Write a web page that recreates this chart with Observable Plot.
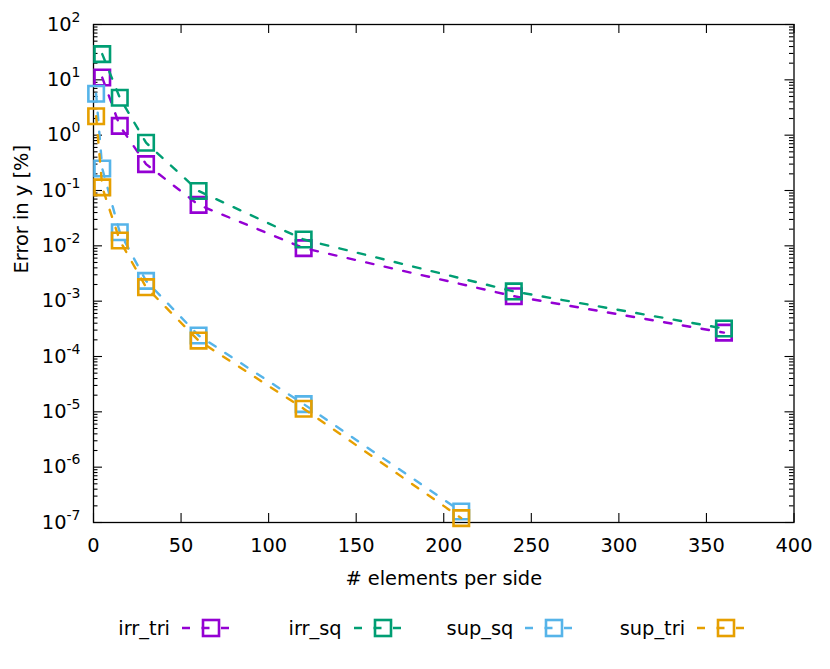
<!DOCTYPE html>
<html>
<head>
<meta charset="utf-8">
<script src="https://cdn.jsdelivr.net/npm/d3@7"></script>
<script src="https://cdn.jsdelivr.net/npm/@observablehq/plot@0.6"></script>
<style>
  html, body { margin: 0; padding: 0; background: #fff; }
  body { width: 830px; height: 669px; overflow: hidden; font-family: "DejaVu Sans", sans-serif; }
  #legend { display: flex; height: 56px; align-items: center; padding-left: 98px; font-size: 19.4px; color: #000; }
  .item { display: flex; align-items: center; width: 171.7px; flex: none; }
  .item span { width: 72px; text-align: right; margin-right: 12px; }
</style>
</head>
<body>
<div id="chart"></div>
<div id="legend"></div>
<script>
// ---- data ----
const seriesNames = ["irr_tri", "irr_sq", "sup_sq", "sup_tri"];
const seriesColors = ["#9400d3", "#009e73", "#56b4e9", "#e69f00"];
const irrX = [5, 15, 30, 60, 120, 240, 360];
const supX = [1.5, 5, 15, 30, 60, 120, 210];
const irrTri = [11.0, 1.47, 0.30, 0.055, 0.0091, 1.23e-3, 2.7e-4];
const irrSq = [29.2, 4.75, 0.73, 0.098, 0.013, 1.5e-3, 3.2e-4];
const supSq = [5.6, 0.25, 0.0176, 2.33e-3, 2.4e-4, 1.38e-5, 1.58e-7];
const supTri = [2.2, 0.114, 0.0125, 1.79e-3, 1.94e-4, 1.14e-5, 1.2e-7];
const xTicks = [0, 50, 100, 150, 200, 250, 300, 350, 400];
const yExponents = [-7, -6, -5, -4, -3, -2, -1, 0, 1, 2];
const xLabel = "# elements per side";
const yLabel = "Error in y [%]";

// ---- build tables ----
const seriesX = [irrX, irrX, supX, supX];
const seriesY = [irrTri, irrSq, supSq, supTri];
const tables = seriesNames.map((name, i) =>
  seriesY[i].map((v, j) => ({series: name, x: seriesX[i][j], y: v})));
const yTicks = yExponents.map(e => Math.pow(10, e));
const yMinor = [];
for (const e of yExponents.slice(0, -1)) for (let m = 2; m <= 9; m++) yMinor.push(m * Math.pow(10, e));

const FS = 19.4;
const W = 830, H = 600, mL = 93, mR = 36.5, mT = 24, mB = 78;
const innerW = W - mL - mR, innerH = H - mT - mB;
const major = 9, minor = 4.5;
const tickStyle = {stroke: "#000", strokeWidth: 1.1};

const marks = [
  // ticks (inward, mirrored)
  Plot.ruleY(yTicks, {y: d => d, insetRight: innerW - major, ...tickStyle}),
  Plot.ruleY(yTicks, {y: d => d, insetLeft: innerW - major, ...tickStyle}),
  Plot.ruleY(yMinor, {y: d => d, insetRight: innerW - minor, ...tickStyle}),
  Plot.ruleY(yMinor, {y: d => d, insetLeft: innerW - minor, ...tickStyle}),
  Plot.ruleX(xTicks, {x: d => d, insetTop: innerH - major, ...tickStyle}),
  Plot.ruleX(xTicks, {x: d => d, insetBottom: innerH - major, ...tickStyle}),
  Plot.axisX({ticks: xTicks, tickSize: 0, tickPadding: 16, fontSize: FS, label: null, tickFormat: d => String(d)}),
  Plot.axisY({ticks: yTicks, tickSize: 0, tickPadding: 13, fontSize: FS, label: null,
              tickFormat: d => "10^" + Math.round(Math.log10(d))}),
  Plot.text([xLabel], {frameAnchor: "bottom", dy: 62, fontSize: FS, fill: "#000"}),
  Plot.text([yLabel], {frameAnchor: "left", dx: -72, rotate: -90, fontSize: FS, fill: "#000"}),
  Plot.frame({stroke: "#000", strokeWidth: 1.3})
];
tables.forEach((rows, i) => {
  marks.push(Plot.line(rows, {x: "x", y: "y", stroke: seriesColors[i], strokeWidth: 2.4,
                              strokeDasharray: "7.5,11.5"}));
  marks.push(Plot.dot(rows, {x: "x", y: "y", symbol: "square", r: 8.75, stroke: seriesColors[i],
                             strokeWidth: 2.6, fill: "none"}));
});

const svg = Plot.plot({
  width: W, height: H,
  marginLeft: mL, marginRight: mR, marginTop: mT, marginBottom: mB,
  style: {fontFamily: "DejaVu Sans, sans-serif", fontSize: FS + "px", color: "#000", background: "#fff"},
  x: {domain: [0, 400]},
  y: {type: "log", domain: [1e-7, 1e2]},
  marks
});
document.getElementById("chart").appendChild(svg);

// superscript exponents on y tick labels
svg.querySelectorAll('g[aria-label="y-axis tick label"] text').forEach(t => {
  const s = t.textContent;
  const m = s.match(/^10\^(-?\d+)$/);
  if (!m) return;
  while (t.firstChild) t.removeChild(t.firstChild);
  const ns = "http://www.w3.org/2000/svg";
  const base = document.createElementNS(ns, "tspan");
  base.textContent = "10";
  const sup = document.createElementNS(ns, "tspan");
  sup.textContent = m[1];
  sup.setAttribute("dy", "-9");
  sup.setAttribute("font-size", "14");
  t.appendChild(base); t.appendChild(sup);
});

// legend
const legend = document.getElementById("legend");
seriesNames.forEach((name, i) => {
  const item = document.createElement("div");
  item.className = "item";
  const c = seriesColors[i];
  item.innerHTML = `<span>${name}</span>
    <svg width="50" height="26" viewBox="0 0 50 26">
      <line x1="0" y1="13" x2="50" y2="13" stroke="${c}" stroke-width="2.4" stroke-dasharray="8,11.5"/>
      <rect x="21" y="5" width="16" height="16" fill="none" stroke="${c}" stroke-width="2.6"/>
    </svg>`;
  legend.appendChild(item);
});
</script>
</body>
</html>
